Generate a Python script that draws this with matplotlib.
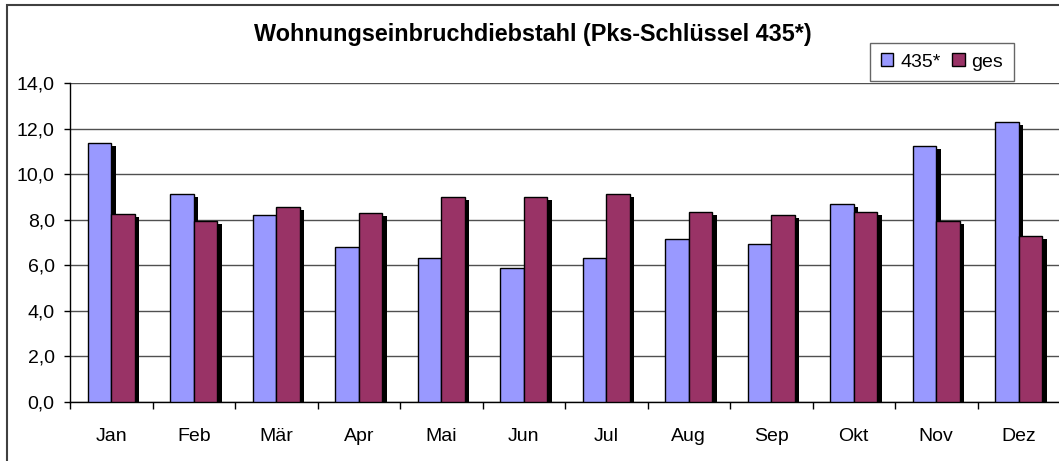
import matplotlib.pyplot as plt
import matplotlib.transforms as mtransforms
from matplotlib.patches import Rectangle, Patch
import numpy as np

plt.rcParams['font.family'] = ['Liberation Sans', 'DejaVu Sans']

months = ['Jan', 'Feb', 'Mär', 'Apr', 'Mai', 'Jun', 'Jul', 'Aug', 'Sep', 'Okt', 'Nov', 'Dez']
vals_435 = [11.37, 9.11, 8.20, 6.80, 6.30, 5.88, 6.30, 7.15, 6.95, 8.69, 11.22, 12.28]
vals_ges = [8.26, 7.93, 8.56, 8.28, 8.98, 8.98, 9.11, 8.35, 8.20, 8.34, 7.93, 7.28]
yticks = [0, 2, 4, 6, 8, 10, 12, 14]
ylabels = ['0,0', '2,0', '4,0', '6,0', '8,0', '10,0', '12,0', '14,0']

W, H = 1059, 461
fig = plt.figure(figsize=(W / 100, H / 100), dpi=100)
ax = fig.add_axes([70 / W, 59 / H, 990 / W, 319 / H])

x = np.arange(len(months))
w = 1 / 3.5  # two bars plus a gap of 1.5 bar widths per category

# drop shadow: same bars shifted right and down
shadow = ax.transData + mtransforms.ScaledTranslation(4.5 / 100, -3 / 100, fig.dpi_scale_trans)
ax.bar(x - w / 2, vals_435, w, color='black', linewidth=0, transform=shadow, zorder=2)
ax.bar(x + w / 2, vals_ges, w, color='black', linewidth=0, transform=shadow, zorder=2)
ax.bar(x - w / 2, vals_435, w, color='#9999FF', edgecolor='black', linewidth=1, zorder=3, label='435*')
ax.bar(x + w / 2, vals_ges, w, color='#993366', edgecolor='black', linewidth=1, zorder=3, label='ges')

ax.set_xlim(-0.5, len(months) - 0.5)
ax.set_ylim(0, 14)
ax.set_yticks(yticks)
ax.set_yticklabels(ylabels)
ax.yaxis.grid(True, color='#505050', linewidth=1)
ax.set_axisbelow(True)

ax.set_xticks(x)
ax.set_xticklabels(months)
ax.set_xticks(np.arange(len(months) + 1) - 0.5, minor=True)
ax.tick_params(axis='x', which='major', length=0, pad=19, labelsize=14)
ax.tick_params(axis='x', which='minor', length=5, width=1, direction='out')
ax.tick_params(axis='y', length=4, width=1, pad=7, labelsize=14)

for s in ['top', 'right']:
    ax.spines[s].set_visible(False)
ax.spines['left'].set_linewidth(1)
ax.spines['bottom'].set_linewidth(1)

fig.text(532.5 / W, 1 - 35 / H, 'Wohnungseinbruchdiebstahl (Pks-Schlüssel 435*)',
         ha='center', va='center', fontsize=16.8, fontweight='bold')

handles = [Patch(facecolor='#9999FF', edgecolor='black', label='435*'),
           Patch(facecolor='#993366', edgecolor='black', label='ges')]
leg = fig.legend(handles=handles, loc='center', bbox_to_anchor=(942 / W, 1 - 62 / H),
                 ncol=2, fontsize=14, frameon=True, fancybox=False,
                 handlelength=0.65, handleheight=0.65, handletextpad=0.35,
                 columnspacing=0.6, borderpad=0.55, borderaxespad=0)
leg.get_frame().set_edgecolor('#404040')
leg.get_frame().set_linewidth(1)

# chart area border
fig.patches.append(Rectangle((7 / W, -0.1), 1.2, 1.1 - 5.5 / H, transform=fig.transFigure,
                             fill=False, edgecolor='#404040', linewidth=1.5))

fig.savefig('out.png', dpi=100)
